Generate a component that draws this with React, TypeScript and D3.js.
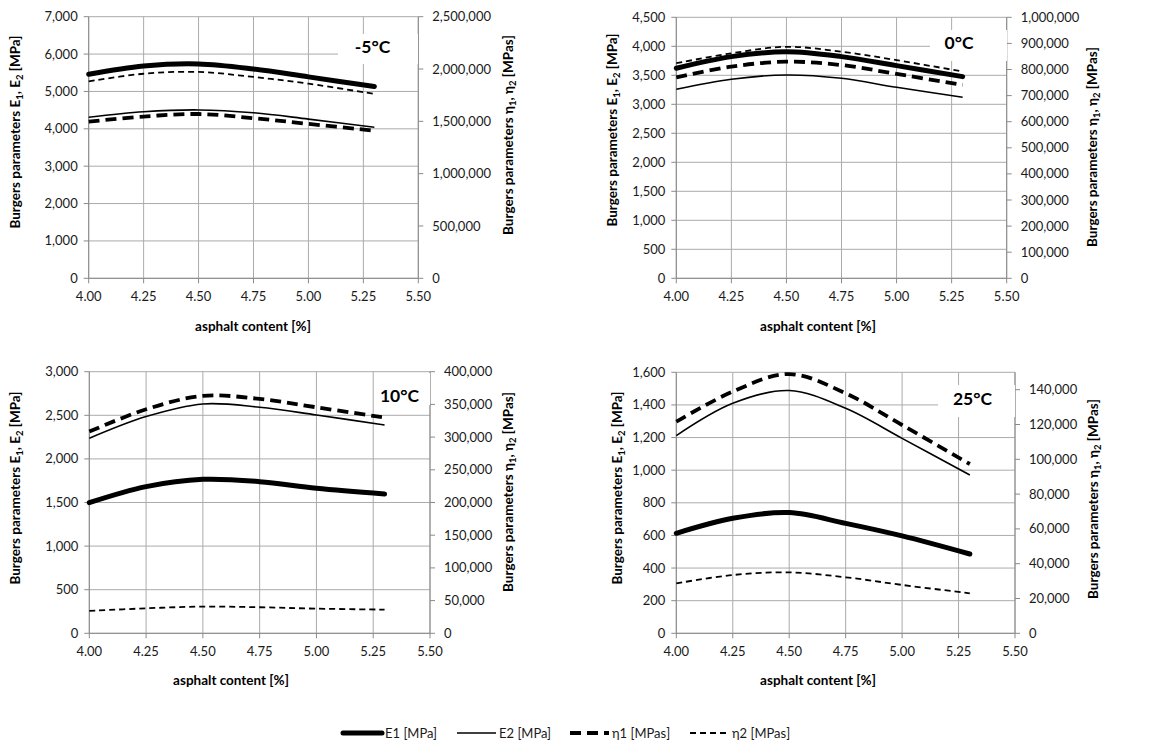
import React from 'react'
import * as d3 from 'd3'

// asphalt content [%] at which the curves were read
const xs = [4.0, 4.25, 4.5, 4.75, 5.0, 5.3]

// -5°C
const e1M5 = [5460, 5680, 5735, 5600, 5390, 5130]
const e2M5 = [4310, 4455, 4505, 4430, 4260, 4040]
const n1M5 = [1497000, 1546000, 1570000, 1530000, 1476000, 1411000]
const n2M5 = [1882000, 1955000, 1972000, 1924000, 1860000, 1762000]

// 0°C
const e10 = [3621, 3822, 3905, 3822, 3667, 3477]
const e20 = [3259, 3431, 3506, 3448, 3293, 3121]
const n10 = [770000, 811000, 830000, 817000, 783000, 741000]
const n20 = [824000, 862000, 887000, 868000, 836000, 792000]

// 10°C
const e110 = [1498, 1682, 1766, 1739, 1663, 1598]
const e210 = [2236, 2485, 2630, 2592, 2504, 2389]
const n110 = [308400, 342500, 363000, 358400, 345600, 329900]
const n210 = [34200, 38200, 40800, 39800, 37700, 36200]

// 25°C
const e125 = [613, 705, 740, 674, 597, 486]
const e225 = [1212, 1410, 1488, 1379, 1195, 970]
const n125 = [121600, 138900, 149000, 137900, 119700, 97300]
const n225 = [28700, 33500, 35000, 32200, 27800, 23000]

const xTicks = [4.0, 4.25, 4.5, 4.75, 5.0, 5.25, 5.5]
const legendLabels = ['E1 [MPa]', 'E2 [MPa]', 'η1 [MPas]', 'η2 [MPas]']

const FONT = 'Lato, "Open Sans", sans-serif'

const styles = [
  {width: 5, dash: null},
  {width: 1.6, dash: null},
  {width: 3.8, dash: '11 6'},
  {width: 1.8, dash: '6 4'},
]

const panels = [
  {
    label: '-5°C', x0: 88.7, x1: 418.3, yTop: 16.7, yBot: 278.3,
    yMax: 7000, yStep: 1000, y2Max: 2500000, y2Step: 500000, y2TickMax: 2500000,
    e1: e1M5, e2: e2M5, n1: n1M5, n2: n2M5,
    box: [338, 34, 80, 30], labelX: 372.5, labelY: 53,
    lTitleX: 15, lTitleY: 132, rTitleX: 508, rTitleY: 135, xTitleX: 253, xTitleY: 331,
  },
  {
    label: '0°C', x0: 676.3, x1: 1006.7, yTop: 17.3, yBot: 278.3,
    yMax: 4500, yStep: 500, y2Max: 1000000, y2Step: 100000, y2TickMax: 1000000,
    e1: e10, e2: e20, n1: n10, n2: n20,
    box: [930, 30, 77, 31], labelX: 959, labelY: 48.5,
    lTitleX: 612, lTitleY: 130, rTitleX: 1092, rTitleY: 147, xTitleX: 818, xTitleY: 331,
  },
  {
    label: '10°C', x0: 89.3, x1: 430, yTop: 371.7, yBot: 633.3,
    yMax: 3000, yStep: 500, y2Max: 400000, y2Step: 50000, y2TickMax: 400000,
    e1: e110, e2: e210, n1: n110, n2: n210,
    box: [374, 373, 56, 32], labelX: 399.5, labelY: 402,
    lTitleX: 15, lTitleY: 488, rTitleX: 508, rTitleY: 492, xTitleX: 231, xTitleY: 685,
  },
  {
    label: '25°C', x0: 676.3, x1: 1015, yTop: 372.3, yBot: 633.3,
    yMax: 1600, yStep: 200, y2Max: 150000, y2Step: 20000, y2TickMax: 140000,
    e1: e125, e2: e225, n1: n125, n2: n225,
    box: [938, 385, 77, 32], labelX: 972.5, labelY: 405,
    lTitleX: 617, lTitleY: 488, rTitleX: 1093, rTitleY: 499, xTitleX: 818, xTitleY: 685,
  },
]

const fmt = d3.format(',')
const fmtX = d3.format('.2f')

const Panel = ({p}) => {
  const x = d3.scaleLinear().domain([4.0, 5.5]).range([p.x0, p.x1])
  const y = d3.scaleLinear().domain([0, p.yMax]).range([p.yBot, p.yTop])
  const y2 = d3.scaleLinear().domain([0, p.y2Max]).range([p.yBot, p.yTop])
  const yTicks = d3.range(0, p.yMax + 1, p.yStep)
  const y2Ticks = d3.range(0, p.y2TickMax + 1, p.y2Step)

  const curve = d3.curveCatmullRom.alpha(0.5)
  const lineL = d3.line().x((d) => x(d[0])).y((d) => y(d[1])).curve(curve)
  const lineR = d3.line().x((d) => x(d[0])).y((d) => y2(d[1])).curve(curve)
  const series = [
    lineL(xs.map((v, i) => [v, p.e1[i]])),
    lineL(xs.map((v, i) => [v, p.e2[i]])),
    lineR(xs.map((v, i) => [v, p.n1[i]])),
    lineR(xs.map((v, i) => [v, p.n2[i]])),
  ]

  return (
    <g fontFamily={FONT}>
      {/* grid */}
      {yTicks.map((t) => (
        <line key={'gy' + t} x1={p.x0} x2={p.x1} y1={y(t)} y2={y(t)} stroke="#ababab" />
      ))}
      {xTicks.map((t) => (
        <line key={'gx' + t} x1={x(t)} x2={x(t)} y1={p.yTop} y2={p.yBot} stroke="#ababab" />
      ))}
      {/* axes */}
      <line x1={p.x0} x2={p.x0} y1={p.yTop} y2={p.yBot} stroke="#8a8a8a" />
      <line x1={p.x1} x2={p.x1} y1={p.yTop} y2={p.yBot} stroke="#8a8a8a" />
      <line x1={p.x0} x2={p.x1} y1={p.yBot} y2={p.yBot} stroke="#8a8a8a" />
      {yTicks.map((t) => (
        <g key={'ly' + t}>
          <line x1={p.x0 - 5} x2={p.x0} y1={y(t)} y2={y(t)} stroke="#8a8a8a" />
          <text x={p.x0 - 11} y={y(t)} dy="0.35em" textAnchor="end" fontSize={13} fill="#1a1a1a">
            {fmt(t)}
          </text>
        </g>
      ))}
      {y2Ticks.map((t) => (
        <g key={'ry' + t}>
          <line x1={p.x1} x2={p.x1 + 5} y1={y2(t)} y2={y2(t)} stroke="#8a8a8a" />
          <text x={p.x1 + 14} y={y2(t)} dy="0.35em" fontSize={13} fill="#1a1a1a">
            {fmt(t)}
          </text>
        </g>
      ))}
      {xTicks.map((t) => (
        <g key={'lx' + t}>
          <line x1={x(t)} x2={x(t)} y1={p.yBot} y2={p.yBot + 5} stroke="#8a8a8a" />
          <text x={x(t)} y={p.yBot + 23} textAnchor="middle" fontSize={13} fill="#1a1a1a">
            {fmtX(t)}
          </text>
        </g>
      ))}
      {/* series */}
      {series.map((d, i) => (
        <path
          key={'s' + i}
          d={d}
          fill="none"
          stroke="#000"
          strokeWidth={styles[i].width}
          strokeDasharray={styles[i].dash || undefined}
          strokeLinecap={i === 0 ? 'round' : 'butt'}
        />
      ))}
      {/* temperature label */}
      <rect x={p.box[0]} y={p.box[1]} width={p.box[2]} height={p.box[3]} fill="#fff" />
      <text x={p.labelX} y={p.labelY} textAnchor="middle" fontSize={17.5} fontWeight="bold">
        {p.label}
      </text>
      {/* titles */}
      <text
        transform={`translate(${p.lTitleX},${p.lTitleY}) rotate(-90)`}
        textAnchor="middle"
        dy="0.35em"
        fontSize={13.5}
        fontWeight="bold"
      >
        Burgers parameters E<tspan fontSize={9.5} dy={3}>1</tspan>
        <tspan dy={-3}>, E</tspan>
        <tspan fontSize={9.5} dy={3}>2</tspan>
        <tspan dy={-3}> [MPa]</tspan>
      </text>
      <text
        transform={`translate(${p.rTitleX},${p.rTitleY}) rotate(-90)`}
        textAnchor="middle"
        dy="0.35em"
        fontSize={13.5}
        fontWeight="bold"
      >
        Burgers parameters η<tspan fontSize={9.5} dy={3}>1</tspan>
        <tspan dy={-3}>, η</tspan>
        <tspan fontSize={9.5} dy={3}>2</tspan>
        <tspan dy={-3}> [MPas]</tspan>
      </text>
      <text x={p.xTitleX} y={p.xTitleY} textAnchor="middle" fontSize={13.5} fontWeight="bold">
        asphalt content [%]
      </text>
    </g>
  )
}

const Legend = () => {
  const lineX = [343, 457, 570, 690]
  const ly = 733
  return (
    <g fontFamily={FONT}>
      {legendLabels.map((l, i) => (
        <g key={l}>
          <line
            x1={lineX[i]}
            x2={lineX[i] + 39}
            y1={ly}
            y2={ly}
            stroke="#000"
            strokeWidth={styles[i].width}
            strokeDasharray={styles[i].dash || undefined}
            strokeLinecap={i === 0 ? 'round' : 'butt'}
          />
          <text x={lineX[i] + 42} y={ly} dy="0.35em" fontSize={13} fill="#1a1a1a">
            {l}
          </text>
        </g>
      ))}
    </g>
  )
}

export default function App() {
  return (
    <svg
      width={1161}
      height={745}
      style={{position: 'absolute', left: 0, top: 0, background: '#fff'}}
    >
      <rect width={1161} height={745} fill="#fff" />
      {panels.map((p) => (
        <Panel key={p.label} p={p} />
      ))}
      <Legend />
    </svg>
  )
}
